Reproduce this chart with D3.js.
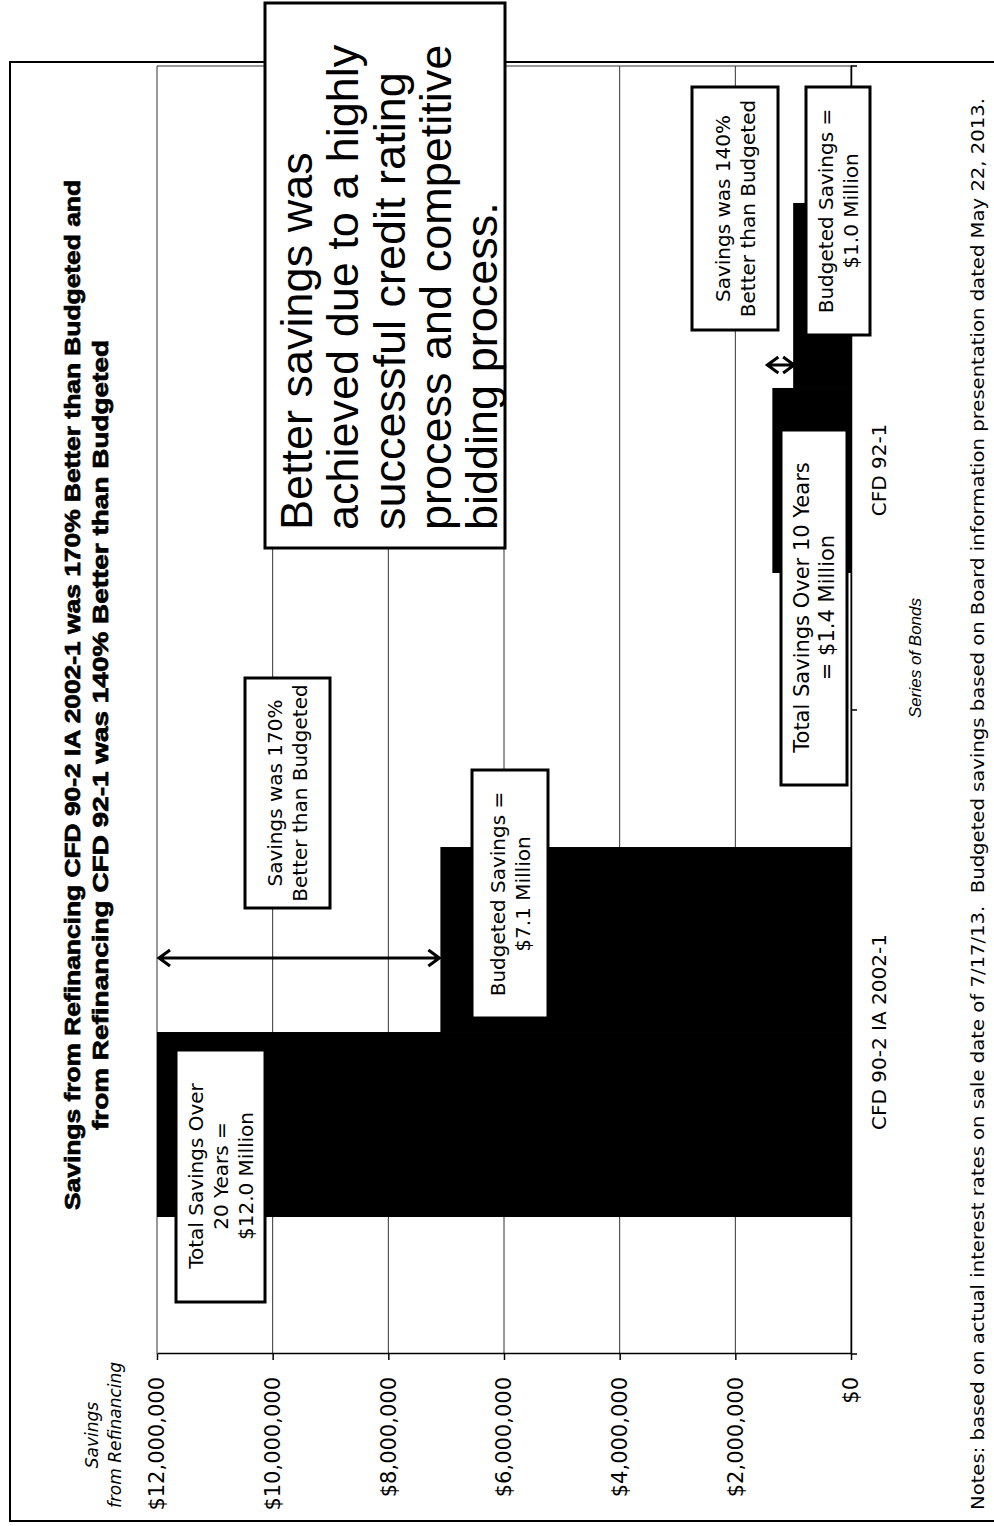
<!DOCTYPE html>
<html lang="en">
<head>
<meta charset="UTF-8">
<title>Savings from Refinancing</title>
<script src="https://d3js.org/d3.v7.min.js"></script>
<style>
  body { margin: 0; background: #fff; }
  svg { display: block; }
  .axis .domain { stroke: #000; stroke-width: 1.5; }
  .axis .tick line { stroke: #000; stroke-width: 1.5; }
</style>
</head>
<body>
<div id="chart"></div>
<script>
const width = 994, height = 1526;

// data
const categories = ["CFD 90-2 IA 2002-1", "CFD 92-1"];
const seriesNames = ["Total Savings", "Budgeted Savings"];
const totalSavings = [12.0e6, 1.36e6];
const budgetedSavings = [7.1e6, 1.0e6];
const valueTicks = [0, 2e6, 4e6, 6e6, 8e6, 10e6, 12e6];

const titleLines = [
    "Savings from Refinancing CFD 90-2 IA 2002-1 was 170% Better than Budgeted and",
    "from Refinancing CFD 92-1 was 140% Better than Budgeted"
];
const axisTitle = ["Savings", "from Refinancing"];
const categoryTitle = "Series of Bonds";
const noteText = "Notes: based on actual interest rates on sale date of 7/17/13.  Budgeted savings based on Board information presentation dated May 22, 2013.";
const calloutLines = [
    "Better savings was",
    "achieved due to a highly",
    "successful credit rating",
    "process and competitive",
    "bidding process."
];

// annotation boxes, page coordinates
const boxes = [
    { x: 176, y: 1050, w: 89, h: 252, size: 20, lines: ["Total Savings Over", "20 Years =", "$12.0 Million"] },
    { x: 245, y: 678, w: 85, h: 230, size: 20, lines: ["Savings was 170%", "Better than Budgeted"] },
    { x: 472, y: 770, w: 76, h: 248, size: 20, lines: ["Budgeted Savings =", "$7.1 Million"] },
    { x: 692, y: 87, w: 86, h: 243, size: 20, lines: ["Savings was 140%", "Better than Budgeted"] },
    { x: 806, y: 87, w: 64, h: 248, size: 20, lines: ["Budgeted Savings =", "$1.0 Million"] },
    { x: 781, y: 430, w: 66, h: 355, size: 21, lines: ["Total Savings Over 10 Years", "= $1.4 Million"] }
];

const svg = d3.select("#chart").append("svg")
    .attr("width", width)
    .attr("height", height);

svg.append("rect").attr("width", width).attr("height", height).attr("fill", "#fff");

// outer frame
svg.append("rect")
    .attr("x", 10).attr("y", 62)
    .attr("width", 1000).attr("height", 1459)
    .attr("fill", "none").attr("stroke", "#000").attr("stroke-width", 2);

// the whole chart is turned a quarter to the left
const g = svg.append("g").attr("transform", `translate(0,${height}) rotate(-90)`);
const U = y => height - y;   // page y -> inner x

const x0 = d3.scaleBand()
    .domain(categories)
    .range([U(1354), U(66)])
    .paddingInner(0.4255)
    .paddingOuter(0.2127);

const x1 = d3.scaleBand()
    .domain(seriesNames)
    .range([0, x0.bandwidth()]);

const y = d3.scaleLinear()
    .domain([0, 12e6])
    .range([851, 157]);

const [plotL, plotR] = x0.range();

// gridlines
g.append("g").selectAll("line")
    .data(valueTicks)
    .join("line")
    .attr("x1", plotL).attr("x2", plotR)
    .attr("y1", d => y(d)).attr("y2", d => y(d))
    .attr("stroke", "#333").attr("stroke-width", 1);

g.append("line")
    .attr("x1", plotR).attr("x2", plotR)
    .attr("y1", y(12e6)).attr("y2", y(0))
    .attr("stroke", "#333").attr("stroke-width", 1);

// bars
g.append("g").selectAll("g")
    .data(categories)
    .join("g")
    .attr("transform", d => `translate(${x0(d)},0)`)
    .selectAll("rect")
    .data((d, i) => seriesNames.map((s, j) => ({ s, v: j === 0 ? totalSavings[i] : budgetedSavings[i] })))
    .join("rect")
    .attr("x", d => x1(d.s))
    .attr("y", d => y(d.v))
    .attr("width", x1.bandwidth())
    .attr("height", d => y(0) - y(d.v))
    .attr("fill", "#000");

// value axis
const yAxis = g.append("g")
    .attr("class", "axis")
    .attr("transform", `translate(${plotL},0)`)
    .call(d3.axisLeft(y)
        .tickValues(valueTicks)
        .tickFormat(d => "$" + d3.format(",")(d))
        .tickSize(6)
        .tickSizeOuter(0)
        .tickPadding(17));
yAxis.selectAll("text")
    .attr("font-family", "DejaVu Sans")
    .attr("font-size", 21)
    .attr("fill", "#000");

// category axis
const xAxis = g.append("g")
    .attr("class", "axis")
    .attr("transform", `translate(0,${y(0)})`)
    .call(d3.axisBottom(x0).tickSize(0).tickSizeOuter(0).tickPadding(21));
xAxis.selectAll("text")
    .attr("font-family", "DejaVu Sans")
    .attr("font-size", 20)
    .attr("fill", "#000");
// the second label sits a little lower on the page in the original
xAxis.selectAll(".tick text")
    .filter(d => d === categories[1])
    .attr("dx", -82);
xAxis.selectAll("line.bound")
    .data([plotL, plotL + x0.step(), plotR])
    .join("line")
    .attr("class", "bound")
    .attr("x1", d => d).attr("x2", d => d)
    .attr("y1", 0).attr("y2", 6)
    .attr("stroke", "#000").attr("stroke-width", 1.5);

// arrows between total and budgeted
function arrow(u, v1, v2) {
    const h = 11, w = 8;
    g.append("path")
        .attr("d", `M${u},${v1}L${u},${v2}M${u - w},${v1 + h}L${u},${v1}L${u + w},${v1 + h}` +
                   `M${u - w},${v2 - h}L${u},${v2}L${u + w},${v2 - h}`)
        .attr("fill", "none")
        .attr("stroke", "#000")
        .attr("stroke-width", 3);
}
arrow(U(958), y(totalSavings[0]) + 2, y(budgetedSavings[0]) - 1);
arrow(U(365), y(totalSavings[1]) - 5, y(budgetedSavings[1]) + 1);

// annotation boxes
boxes.forEach(b => {
    g.append("rect")
        .attr("x", U(b.y + b.h)).attr("y", b.x)
        .attr("width", b.h).attr("height", b.w)
        .attr("fill", "#fff").attr("stroke", "#000").attr("stroke-width", 3);
    const n = b.lines.length, gap = 25;
    g.append("g").selectAll("text")
        .data(b.lines)
        .join("text")
        .attr("x", U(b.y + b.h / 2))
        .attr("y", (d, i) => b.x + b.w / 2 + (i - (n - 1) / 2) * gap)
        .attr("dy", "0.36em")
        .attr("text-anchor", "middle")
        .attr("font-family", "DejaVu Sans")
        .attr("font-size", b.size)
        .text(d => d);
});

// big callout
g.append("rect")
    .attr("x", U(548)).attr("y", 265)
    .attr("width", 545).attr("height", 240)
    .attr("fill", "#fff").attr("stroke", "#000").attr("stroke-width", 3);
g.append("g").selectAll("text")
    .data(calloutLines)
    .join("text")
    .attr("x", U(530))
    .attr("y", (d, i) => 312 + i * 46.3)
    .attr("font-family", "Liberation Sans, Arial, sans-serif")
    .attr("font-size", 45)
    .text(d => d);

// title
g.append("g").selectAll("text")
    .data(titleLines)
    .join("text")
    .attr("x", (d, i) => i === 0 ? U(1210) : U(1130))
    .attr("y", (d, i) => i === 0 ? 80 : 108)
    .attr("textLength", (d, i) => i === 0 ? 1030 : 790)
    .attr("lengthAdjust", "spacingAndGlyphs")
    .attr("font-family", "Liberation Sans, Arial, sans-serif")
    .attr("font-weight", "bold")
    .attr("font-size", 22)
    .attr("stroke", "#000")
    .attr("stroke-width", 0.7)
    .text(d => d);

// axis titles
g.append("g").selectAll("text")
    .data(axisTitle)
    .join("text")
    .attr("x", U(1435))
    .attr("y", (d, i) => 92 + i * 23)
    .attr("dy", "0.36em")
    .attr("text-anchor", "middle")
    .attr("font-family", "DejaVu Sans")
    .attr("font-style", "italic")
    .attr("font-size", 17)
    .text(d => d);

g.append("text")
    .attr("x", U(658)).attr("y", 915)
    .attr("dy", "0.36em")
    .attr("text-anchor", "middle")
    .attr("font-family", "Liberation Sans, Arial, sans-serif")
    .attr("font-style", "italic")
    .attr("font-size", 17)
    .text(categoryTitle);

// footnote
g.append("text")
    .attr("x", U(1510)).attr("y", 984)
    .attr("textLength", 1412)
    .attr("lengthAdjust", "spacingAndGlyphs")
    .style("white-space", "pre")
    .attr("font-family", "DejaVu Sans")
    .attr("font-size", 18.5)
    .text(noteText);
</script>
</body>
</html>
